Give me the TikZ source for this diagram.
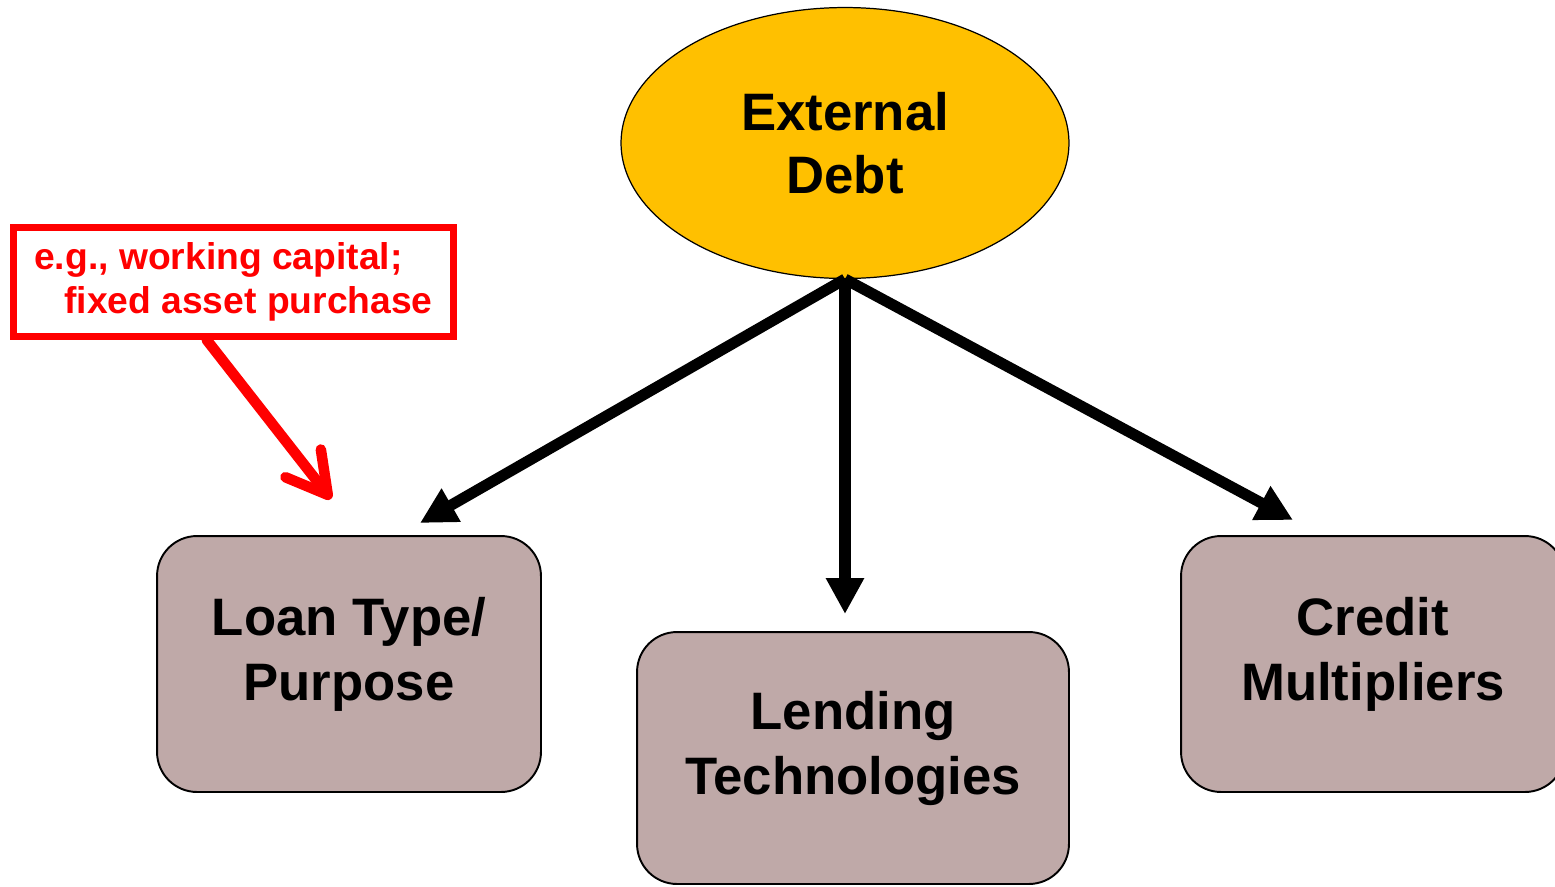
\documentclass[tikz,border=0pt]{standalone}
\usepackage{fontspec}
\setmainfont{Liberation Sans}
\usetikzlibrary{shapes.geometric,arrows.meta}
\definecolor{gold}{RGB}{255,192,0}
\definecolor{mauve}{RGB}{191,169,168}

\begin{document}
\begin{tikzpicture}[x=0.02cm, y=-0.02cm,
        topic/.style={ellipse, draw, line width=0.7pt, fill=gold, minimum width=8.96cm, minimum height=5.42cm,
            align=center, font=\fontsize{30}{35.5}\selectfont\bfseries},
        branch/.style={draw, line width=1.1pt, fill=mauve, rounded corners=0.8cm, align=center, text depth=0.62cm,
            font=\fontsize{30}{37}\selectfont\bfseries},
        note/.style={draw=red, line width=4pt, text=red, minimum width=8.82cm, minimum height=2.17cm,
            align=left, font=\fontsize{21.2}{25}\selectfont\bfseries},
        link/.style={line width=6.3pt, -{Triangle[length=0.72cm, width=0.72cm]}},
        hint/.style={red, line width=6pt, line cap=round, -{Straight Barb[round, length=0.8cm, width=0.9cm]}}]
        \clip (0,0) rectangle (1555,886); % page size in px

        % the debt and its three branches
        \node[topic] (ext) at (845,143) {External\\Debt};
        \node[branch, minimum width=7.68cm, minimum height=5.12cm] (loan) at (349,664) {Loan Type/\\Purpose};
        \node[branch, minimum width=8.64cm, minimum height=5.04cm] (lend) at (853,758) {Lending\\Technologies};
        \node[branch, minimum width=7.68cm, minimum height=5.12cm] (credit) at (1373,664) {Credit\\Multipliers};

        % arrow ends stop short of the boxes
        \coordinate (tipL) at (420,523);
        \coordinate (tipM) at (845,614);
        \coordinate (tipR) at (1293,520);
        \draw[link] (ext.south) -- (tipL);
        \draw[link] (ext.south) -- (tipM);
        \draw[link] (ext.south) -- (tipR);

        % red remark on loan types
        \node[note] (eg) at (233.5,282) {e.g., working capital;\\\hspace*{0.6cm}fixed asset purchase};
        \coordinate (tipN) at (331,499);
        \draw[hint] (eg.-115) -- (tipN);
    \end{tikzpicture}
\end{document}
